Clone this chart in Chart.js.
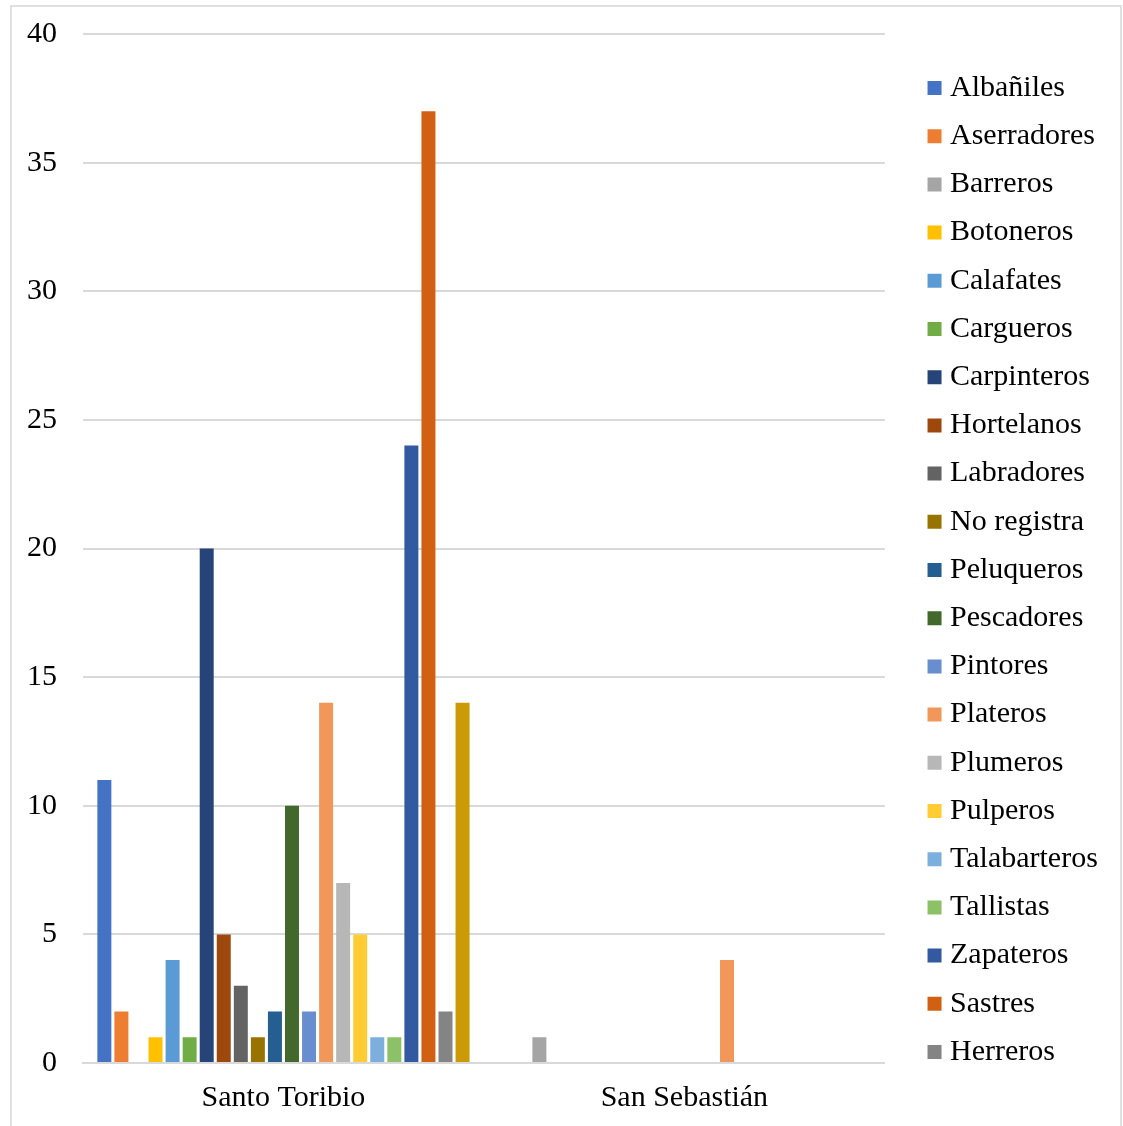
<!DOCTYPE html>
<html>
<head>
<meta charset="utf-8">
<script src="https://cdn.jsdelivr.net/npm/chart.js@4.4.1/dist/chart.umd.min.js"></script>
<style>
  html, body { margin: 0; padding: 0; background: #fff; overflow: hidden; }
  #wrap { position: relative; width: 1123px; height: 1126px; }
  #frame { position: absolute; left: 10px; top: 5px; width: 1112px; height: 1200px; border: 2px solid #e0e0e0; box-sizing: border-box; pointer-events: none; }
  canvas { position: absolute; left: 0; top: 0; }
</style>
</head>
<body>
<div id="wrap">
  <canvas id="chart" width="1123" height="1126"></canvas>
  <div id="frame"></div>
</div>
<script>
  // ===== DATA =====
  const categories = ["Santo Toribio", "San Sebastián"];
  const seriesNames = [
    "Albañiles", "Aserradores", "Barreros", "Botoneros", "Calafates", "Cargueros",
    "Carpinteros", "Hortelanos", "Labradores", "No registra", "Peluqueros", "Pescadores",
    "Pintores", "Plateros", "Plumeros", "Pulperos", "Talabarteros", "Tallistas",
    "Zapateros", "Sastres", "Herreros", "Otros"
  ];
  // one value per category: [Santo Toribio, San Sebastián]
  const santoToribio = [11, 2, 0, 1, 4, 1, 20, 5, 3, 1, 2, 10, 2, 14, 7, 5, 1, 1, 24, 37, 2, 14];
  const sanSebastian = [0, 0, 1, 0, 0, 0, 0, 0, 0, 0, 0, 0, 0, 4, 0, 0, 0, 0, 0, 0, 0, 0];
  const yTicks = { min: 0, max: 40, step: 5 };
  const legendCount = 21; // last series is cut off from the legend

  const colors = [
    "#4472C4", "#ED7D31", "#A5A5A5", "#FFC000", "#5B9BD5", "#70AD47",
    "#264478", "#9E480E", "#636363", "#997300", "#255E91", "#43682B",
    "#698ED0", "#F1975A", "#B7B7B7", "#FFCD33", "#7CAFDD", "#8CC168",
    "#335AA1", "#D26012", "#848484", "#CC9A06"
  ];

  const datasets = seriesNames.map((name, i) => ({
    label: name,
    data: [santoToribio[i], sanSebastian[i]],
    backgroundColor: colors[i],
    borderWidth: 0,
    categoryPercentage: 0.936,
    barPercentage: 0.82
  }));

  const serif = "'Liberation Serif', 'Times New Roman', serif";
  Chart.defaults.font.family = serif;
  Chart.defaults.color = "#000";

  new Chart(document.getElementById("chart"), {
    type: "bar",
    data: { labels: categories, datasets },
    options: {
      responsive: false,
      animation: false,
      layout: { padding: { left: 0, top: 34, right: 24, bottom: 0 } },
      plugins: {
        tooltip: { enabled: false },
        legend: {
          position: "right",
          align: "start",
          title: { display: true, text: "", font: { size: 10, lineHeight: 1 }, padding: { top: 10.8, bottom: 0 } },
          labels: {
            usePointStyle: true,
            pointStyle: "rect",
            boxWidth: 1,
            boxHeight: 14,
            padding: 18.2,
            font: { size: 30, family: serif },
            color: "#000",
            filter: (item) => item.datasetIndex < legendCount
          }
        }
      },
      scales: {
        x: {
          grid: { display: false, drawTicks: false },
          border: { display: true, color: "#d9d9d9", width: 2 },
          ticks: { padding: 17, font: { size: 30 }, color: "#000" },
          afterFit: (scale) => { scale.height = 63; scale.paddingLeft = 0; scale.paddingRight = 0; }
        },
        y: {
          min: yTicks.min,
          max: yTicks.max,
          grid: { color: "#d9d9d9", lineWidth: 2, drawTicks: false },
          border: { display: false },
          ticks: { stepSize: yTicks.step, padding: 26, font: { size: 30 }, color: "#000" },
          afterFit: (scale) => { scale.width = 83; scale.paddingTop = 0; scale.paddingBottom = 0; }
        },
        gap: {
          // empty axis to keep space between plot and legend
          position: "right",
          display: true,
          grid: { display: false, drawTicks: false },
          border: { display: false },
          ticks: { display: false },
          afterFit: (scale) => { scale.width = 31; }
        }
      }
    }
  });
</script>
</body>
</html>
